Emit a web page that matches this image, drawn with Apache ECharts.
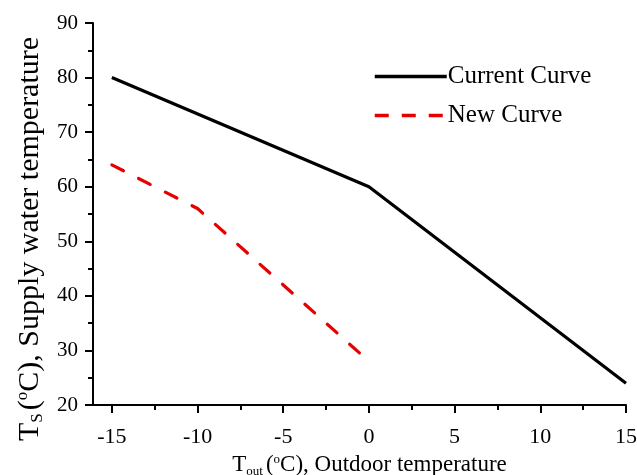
<!DOCTYPE html>
<html>
<head>
<meta charset="utf-8">
<script src="https://cdn.jsdelivr.net/npm/echarts@6/dist/echarts.min.js"></script>
<style>
html,body{margin:0;padding:0;background:#fff;}
#chart{width:637px;height:475px;}
</style>
</head>
<body>
<div id="chart"></div>
<script>
// Data
const xCurrent = [-15, 0, 15];
const yCurrent = [80, 60, 24];
const xNew = [-15, -10, -5, 0];
const yNew = [64, 56, 42, 28];
const xMajorTicks = [-15, -10, -5, 0, 5, 10, 15];
const xMinorTicks = [-12.5, -7.5, -2.5, 2.5, 7.5, 12.5];
const seriesNames = ['Current Curve', 'New Curve'];

const FONT = '"Liberation Serif", "Times New Roman", serif';
const chart = echarts.init(document.getElementById('chart'), null, {renderer: 'canvas'});

const toPairs = (xs, ys) => xs.map((x, i) => [x, ys[i]]);

const option = {
  backgroundColor: '#fff',
  animation: false,
  textStyle: {fontFamily: FONT, color: '#000'},
  grid: {left: 93, right: 11, top: 23, bottom: 70, containLabel: false, outerBoundsMode: 'none'},
  legend: {
    orient: 'vertical',
    left: 368,
    top: 59,
    itemWidth: 72,
    itemHeight: 14,
    itemGap: 14,
    itemStyle: {opacity: 0},
    lineStyle: {width: 3},
    textStyle: {fontFamily: FONT, fontSize: 25, color: '#000', padding: [0, 0, 0, -4]},
    data: [
      {name: seriesNames[0], lineStyle: {width: 3.5, color: '#000'}},
      {name: seriesNames[1], lineStyle: {width: 3.5, color: '#e60000', type: [14, 13], cap: 'butt'}}
    ]
  },
  xAxis: [
    {
      type: 'value', min: -16.1, max: 15,
      axisLine: {show: true, onZero: false, lineStyle: {color: '#000', width: 2}},
      axisTick: {show: true, length: 8, lineStyle: {color: '#000', width: 2}, customValues: xMajorTicks},
      axisLabel: {show: true, fontFamily: FONT, fontSize: 22, color: '#000', margin: 21, customValues: xMajorTicks},
      splitLine: {show: false},
      name: '{t|T}{sub|out} {t|(}{sup|o}{t|C), Outdoor temperature}',
      nameLocation: 'middle',
      nameGap: 39,
      nameTextStyle: {
        padding: [0, 0, 0, 20],
        rich: {
          t: {fontFamily: FONT, fontSize: 23, color: '#000'},
          sub: {fontFamily: FONT, fontSize: 13, color: '#000', verticalAlign: 'bottom', padding: [12, 0, 0, 0]},
          sup: {fontFamily: FONT, fontSize: 13, color: '#000', verticalAlign: 'top', padding: [0, 0, 10, 0]}
        }
      }
    },
    {
      type: 'value', min: -16.1, max: 15, position: 'bottom',
      axisLine: {show: false, onZero: false},
      axisTick: {show: true, length: 5, lineStyle: {color: '#000', width: 2}, customValues: xMinorTicks},
      axisLabel: {show: false},
      splitLine: {show: false}
    }
  ],
  yAxis: {
    type: 'value', min: 20, max: 90, interval: 10,
    axisLine: {show: true, onZero: false, lineStyle: {color: '#000', width: 2}},
    axisTick: {show: true, length: 8, lineStyle: {color: '#000', width: 2}},
    minorTick: {show: true, splitNumber: 2, length: 5, lineStyle: {color: '#000', width: 2}},
    axisLabel: {fontFamily: FONT, fontSize: 21, color: '#000', margin: 15},
    splitLine: {show: false},
    name: '{t|T}{sub|S} {t|(}{sup|o}{t|C), Supply water temperature}',
    nameLocation: 'middle',
    nameGap: 45,
    nameRotate: 90,
    nameTextStyle: {
      padding: [0, 50, 0, 0],
      rich: {
        t: {fontFamily: FONT, fontSize: 30, color: '#000'},
        sub: {fontFamily: FONT, fontSize: 17, color: '#000', verticalAlign: 'bottom', padding: [15, 0, 0, 0]},
        sup: {fontFamily: FONT, fontSize: 17, color: '#000', verticalAlign: 'top', padding: [0, 0, 13, 0]}
      }
    }
  },
  series: [
    {
      name: seriesNames[0], type: 'line', xAxisIndex: 0,
      data: toPairs(xCurrent, yCurrent),
      symbol: 'none',
      lineStyle: {color: '#000', width: 3.2},
      itemStyle: {color: '#000'}
    },
    {
      name: seriesNames[1], type: 'line', xAxisIndex: 0,
      data: toPairs(xNew, yNew),
      symbol: 'none',
      lineStyle: {color: '#e60000', width: 3.2, type: [13, 17], cap: 'round'},
      itemStyle: {color: '#e60000'}
    }
  ]
};
chart.setOption(option);
</script>
</body>
</html>
